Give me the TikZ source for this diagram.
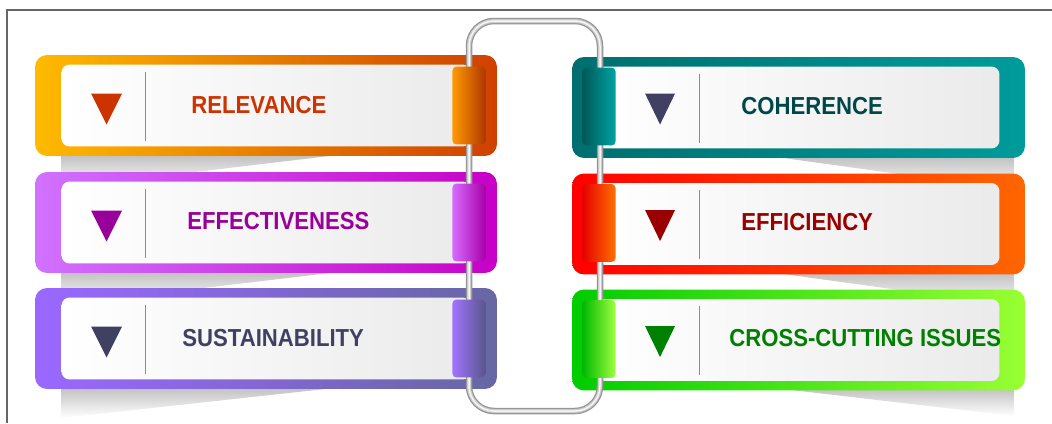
\documentclass[tikz,border=0pt]{standalone}
\usepackage{fontspec}
\newfontfamily\capsfont{Liberation Sans}[FakeStretch=0.9]
\usepackage{tikz}
\usetikzlibrary{calc}
\definecolor{relA}{HTML}{FFBA00}
\definecolor{relB}{HTML}{CF4000}
\definecolor{relT}{HTML}{FF9A00}
\definecolor{relX}{HTML}{CC3300}
\definecolor{effA}{HTML}{D172FF}
\definecolor{effB}{HTML}{C700C7}
\definecolor{effT}{HTML}{D76BFF}
\definecolor{effX}{HTML}{990099}
\definecolor{susA}{HTML}{9A68FF}
\definecolor{susB}{HTML}{6767A3}
\definecolor{susT}{HTML}{A173FF}
\definecolor{susX}{HTML}{404063}
\definecolor{cohA}{HTML}{006E6E}
\definecolor{cohB}{HTML}{009B9B}
\definecolor{cohT}{HTML}{00A3A3}
\definecolor{cohX}{HTML}{004848}
\definecolor{efiA}{HTML}{FF0000}
\definecolor{efiB}{HTML}{FF6600}
\definecolor{efiT}{HTML}{FF7000}
\definecolor{efiX}{HTML}{990000}
\definecolor{croA}{HTML}{00CC00}
\definecolor{croB}{HTML}{99FF33}
\definecolor{croT}{HTML}{A0FF40}
\definecolor{croX}{HTML}{008000}
\tikzstyle{panelL} = [rectangle, rounded corners=0.24cm, minimum width=9.24cm, minimum height=2.02cm, inner sep=0pt, outer sep=0pt]
\tikzstyle{panelR} = [panelL, minimum width=9.06cm]
\tikzstyle{face} = [rectangle, rounded corners=0.16cm, left color=white, middle color=white, right color=black!8, minimum height=1.64cm, inner sep=0pt]
\tikzstyle{tab} = [rectangle, rounded corners=0.08cm, minimum width=0.66cm, minimum height=1.56cm, inner sep=0pt]
\tikzstyle{divider} = [draw=black!45, line width=0.6pt]
\tikzstyle{itemtext} = [anchor=west, inner sep=0pt, font={\capsfont\bfseries\fontsize{14}{16}\selectfont}]
\tikzstyle{wire} = [rounded corners=0.5cm, line width=0.13cm, draw=black!42]
\tikzstyle{wiremid} = [rounded corners=0.5cm, line width=0.08cm, draw=black!20]
\tikzstyle{wirelight} = [rounded corners=0.5cm, line width=0.03cm, draw=black!4]
\tikzstyle{panelshadow} = [top color=black!28, bottom color=white]
\tikzstyle{frame} = [draw=black!60, line width=0.8pt]

\begin{document}
\begin{tikzpicture}[x=0.02cm,y=-0.02cm]
    \useasboundingbox (0,0) rectangle (1052,423);
    \draw[frame] (7,423) -- (7,10) -- (1052,10);

    % shadows under the panels
    \shade[panelshadow] (61,150) -- (380,150) -- (61,188) -- cycle;
    \shade[panelshadow] (61,267) -- (380,267) -- (61,305) -- cycle;
    \shade[panelshadow] (61,383) -- (380,383) -- (61,418) -- cycle;
    \shade[panelshadow] (1014,152) -- (740,152) -- (1014,190) -- cycle;
    \shade[panelshadow] (1014,268) -- (740,268) -- (1014,306) -- cycle;
    \shade[panelshadow] (1014,384) -- (740,384) -- (1014,416) -- cycle;

    % coloured panels
    \node[panelL, left color=relA, right color=relB] (rel) at (266,105.5) {};
    \node[panelL, left color=effA, right color=effB] (eff) at (266,222.5) {};
    \node[panelL, left color=susA, right color=susB] (sus) at (266,338.5) {};
    \node[panelR, left color=cohA, right color=cohB] (coh) at (798.5,107.5) {};
    \node[panelR, left color=efiA, right color=efiB] (efi) at (798.5,224) {};
    \node[panelR, left color=croA, right color=croB] (cro) at (798.5,340) {};

    \node[face, minimum width=8.18cm] (relface) at (rel) {};
    \node[face, minimum width=8.18cm] (effface) at (eff) {};
    \node[face, minimum width=8.18cm] (susface) at (sus) {};
    \node[face, minimum width=8.04cm] (cohface) at (coh) {};
    \node[face, minimum width=8.04cm] (efiface) at (efi) {};
    \node[face, minimum width=8.04cm] (croface) at (cro) {};

    % the wire
    \coordinate (wtl) at (469,21);
    \coordinate (wbr) at (600,411);
    \draw[wire] (wtl) rectangle (wbr);
    \draw[wiremid] (wtl) rectangle (wbr);
    \draw[wirelight] (wtl) rectangle (wbr);

    % clips on the wire
    \node[tab, left color=relT, right color=relB!85!black] (reltab) at ($(rel.east)+(-28,0)$) {};
    \node[tab, left color=effT, right color=effB!85!black] (efftab) at ($(eff.east)+(-28,0)$) {};
    \node[tab, left color=susT, right color=susB!85!black] (sustab) at ($(sus.east)+(-28,0)$) {};
    \node[tab, left color=cohA!80!black, right color=cohT] (cohtab) at ($(coh.west)+(27,-1)$) {};
    \node[tab, left color=efiA!90!black, right color=efiT] (efitab) at ($(efi.west)+(27,-1)$) {};
    \node[tab, left color=croA!90!black, right color=croT] (crotab) at ($(cro.west)+(27,-1)$) {};

    % markers and dividers
    \fill[relX] ($(rel.west)+(56,-12)$) -- ++(31,0) -- ++(-15.5,31) -- cycle;
    \fill[effX] ($(eff.west)+(56,-12)$) -- ++(31,0) -- ++(-15.5,31) -- cycle;
    \fill[susX] ($(sus.west)+(56,-12)$) -- ++(31,0) -- ++(-15.5,31) -- cycle;
    \fill[susX] ($(coh.west)+(73,-14)$) -- ++(30,0) -- ++(-15,31) -- cycle;
    \fill[efiX] ($(efi.west)+(73,-14)$) -- ++(30,0) -- ++(-15,31) -- cycle;
    \fill[croX] ($(cro.west)+(73,-14)$) -- ++(30,0) -- ++(-15,31) -- cycle;
    \draw[divider] ($(rel.west)+(110,-34)$) -- ++(0,69);
    \draw[divider] ($(eff.west)+(110,-34)$) -- ++(0,69);
    \draw[divider] ($(sus.west)+(110,-34)$) -- ++(0,69);
    \draw[divider] ($(coh.west)+(127,-34)$) -- ++(0,69);
    \draw[divider] ($(efi.west)+(127,-34)$) -- ++(0,69);
    \draw[divider] ($(cro.west)+(127,-34)$) -- ++(0,69);

    \node[itemtext, text=relX] (reltext) at ($(rel.west)+(156,0)$) {RELEVANCE};
    \node[itemtext, text=effX] (efftext) at ($(eff.west)+(152,-1)$) {EFFECTIVENESS};
    \node[itemtext, text=susX] (sustext) at ($(sus.west)+(147,0)$) {SUSTAINABILITY};
    \node[itemtext, text=cohX] (cohtext) at ($(coh.west)+(169,-1.5)$) {COHERENCE};
    \node[itemtext, text=efiX] (efitext) at ($(efi.west)+(169,-1.5)$) {EFFICIENCY};
    \node[itemtext, text=croX] (crotext) at ($(cro.west)+(157,-1.5)$) {CROSS-CUTTING ISSUES};
\end{tikzpicture}
\end{document}
